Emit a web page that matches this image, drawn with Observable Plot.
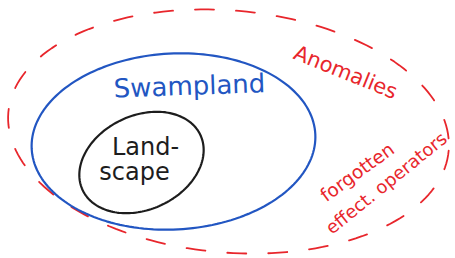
<!DOCTYPE html>
<html><head><meta charset="utf-8">
<script src="https://cdn.jsdelivr.net/npm/d3@7"></script>
<script src="https://cdn.jsdelivr.net/npm/@observablehq/plot@0.6"></script>
<style>html,body{margin:0;padding:0;background:#fff;} svg{display:block}</style>
</head><body><div id="chart"></div>
<script>
// Regions of the diagram (in a 455x258 sketch coordinate space)
const regionNames = ["Anomalies zone", "Swampland", "Landscape"];
const regionCx = [228, 173, 141];
const regionCy = [131, 141, 162];
const regionRx = [221, 142, 65];
const regionRy = [121, 88, 47];
const regionTilt = [5, -3, -25];
const regionColor = ["#e8262c", "#2256c2", "#1d1d1d"];
const regionDashed = [true, false, false];

// Labels
const labelText = ["Swampland", "Anomalies", "Land-", "scape", "forgotten", "effect. operators"];
const labelX = [189, 345, 145, 134, 357, 386];
const labelY = [86, 72, 147, 172, 172, 183];
const labelAngle = [-2, 22, 0, 0, -36, -39];
const labelSize = [26, 21, 24, 24, 18.5, 18];
const labelColor = ["#2256c2", "#e8262c", "#1d1d1d", "#1d1d1d", "#e8262c", "#e8262c"];

const N = 180;
const outline = regionNames.flatMap((name, i) => {
  const th = regionTilt[i] * Math.PI / 180;
  return d3.range(N).map(k => {
    const t = 2 * Math.PI * k / N;
    const ex = regionRx[i] * Math.cos(t), ey = regionRy[i] * Math.sin(t);
    return {name, x: regionCx[i] + ex * Math.cos(th) - ey * Math.sin(th),
                  y: regionCy[i] + ex * Math.sin(th) + ey * Math.cos(th)};
  });
});
const labels = labelText.map((text, i) => ({text, x: labelX[i], y: labelY[i], a: labelAngle[i], s: labelSize[i], c: labelColor[i]}));

const marks = regionNames.map((name, i) => Plot.line(outline.filter(d => d.name === name), {
  x: "x", y: "y", curve: "linear-closed", stroke: regionColor[i], strokeWidth: regionDashed[i] ? 1.8 : 2.2,
  strokeDasharray: regionDashed[i] ? "19,22" : null, strokeLinecap: "round"
}));
labels.forEach(l => marks.push(Plot.text([l], {x: "x", y: "y", text: "text", rotate: l.a, fontSize: l.s, fill: l.c,
  fontFamily: "DejaVu Sans", fontWeight: 400})));

const chart = Plot.plot({
  width: 455, height: 258, margin: 0,
  x: {domain: [0, 455], range: [0, 455], axis: null},
  y: {domain: [0, 258], range: [0, 258], axis: null},
  marks
});
document.getElementById("chart").appendChild(chart);
</script></body></html>
